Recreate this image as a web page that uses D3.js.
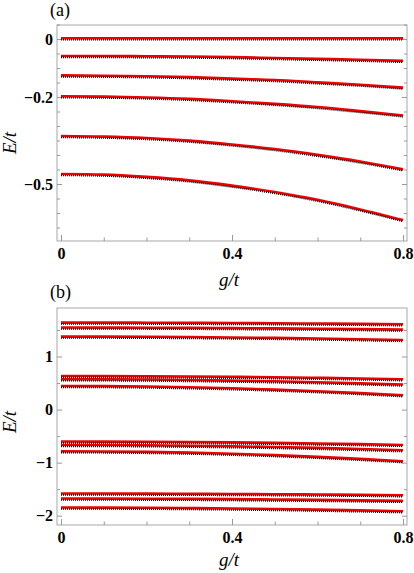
<!doctype html>
<html>
<head>
<meta charset="utf-8">
<script src="https://d3js.org/d3.v7.min.js"></script>
<style>
  body { margin: 0; background: #fff; }
  .tick line { stroke: #999; }
</style>
</head>
<body>
<svg width="414" height="573"></svg>
<script>
// coupling values g/t
var gVals = [0, 0.1, 0.2, 0.3, 0.4, 0.5, 0.6, 0.7, 0.8];

// panel (a) levels E/t
var levelsA = [
  [0, 0, 0, 0, 0, 0, 0, 0, 0],
  [-0.061, -0.061, -0.062, -0.063, -0.065, -0.068, -0.071, -0.074, -0.078],
  [-0.128, -0.129, -0.131, -0.134, -0.139, -0.144, -0.152, -0.160, -0.170],
  [-0.200, -0.201, -0.204, -0.209, -0.217, -0.226, -0.237, -0.251, -0.266],
  [-0.337, -0.339, -0.344, -0.353, -0.366, -0.382, -0.402, -0.425, -0.452],
  [-0.468, -0.470, -0.478, -0.490, -0.508, -0.530, -0.557, -0.590, -0.627]
];

// panel (b) levels E/t
var levelsB = [
  [1.626, 1.626, 1.624, 1.621, 1.618, 1.614, 1.608, 1.602, 1.594],
  [1.532, 1.531, 1.530, 1.527, 1.522, 1.517, 1.511, 1.503, 1.494],
  [1.362, 1.361, 1.358, 1.353, 1.346, 1.337, 1.326, 1.313, 1.298],
  [0.620, 0.619, 0.616, 0.611, 0.604, 0.596, 0.585, 0.573, 0.558],
  [0.558, 0.556, 0.552, 0.544, 0.533, 0.519, 0.502, 0.481, 0.458],
  [0.432, 0.429, 0.421, 0.407, 0.388, 0.363, 0.333, 0.297, 0.256],
  [-0.616, -0.617, -0.620, -0.625, -0.632, -0.641, -0.652, -0.665, -0.680],
  [-0.680, -0.682, -0.686, -0.694, -0.705, -0.719, -0.736, -0.757, -0.780],
  [-0.799, -0.802, -0.811, -0.825, -0.846, -0.872, -0.905, -0.943, -0.987],
  [-1.596, -1.596, -1.598, -1.601, -1.604, -1.608, -1.614, -1.620, -1.628],
  [-1.690, -1.691, -1.693, -1.696, -1.701, -1.708, -1.715, -1.724, -1.735],
  [-1.860, -1.861, -1.864, -1.870, -1.877, -1.887, -1.899, -1.913, -1.929]
];

var xMajor = [0, 0.4, 0.8];
var xMinor = [0.1, 0.2, 0.3, 0.5, 0.6, 0.7];
var yMajorA = [0, -0.2, -0.5];
var yMinorA = [0.05, -0.05, -0.1, -0.15, -0.25, -0.3, -0.35, -0.4, -0.45, -0.55, -0.6, -0.65];
var yMajorB = [1, 0, -1, -2];
var yMinorB = [1.5, 0.5, -0.5, -1.5];

var serif = "'Liberation Serif', 'DejaVu Serif', serif";
var svg = d3.select("svg");

function panel(opt) {
  var x = d3.scaleLinear().domain([0, 0.8]).range([61, 403]);
  var y = d3.scaleLinear().domain(opt.yDom).range(opt.yRange);
  var g = svg.append("g");
  var L = 57, R = 407, T = opt.top, B = opt.bottom;

  g.append("rect").attr("x", L).attr("y", T).attr("width", R - L).attr("height", B - T)
    .attr("fill", "none").attr("stroke", "#a8a8a8").attr("stroke-width", 1);

  function fmt(d) { return d === 0 ? "0" : d3.format("")(d).replace("-", "\u2212"); }

  // bottom axis (ticks pointing in)
  var bx = g.append("g").attr("transform", "translate(0," + B + ")");
  bx.call(d3.axisBottom(x).tickValues(xMajor).tickSize(-6).tickPadding(7).tickFormat(fmt));
  bx.append("g").call(d3.axisBottom(x).tickValues(xMinor).tickSize(-3.5).tickFormat(""));
  bx.selectAll(".domain").remove();

  // left axis
  var ly = g.append("g").attr("transform", "translate(" + L + ",0)");
  ly.call(d3.axisLeft(y).tickValues(opt.yMajor).tickSize(-5).tickPadding(4).tickFormat(fmt));
  ly.append("g").call(d3.axisLeft(y).tickValues(opt.yMinor).tickSize(-3).tickFormat(""));
  ly.selectAll(".domain").remove();

  // right axis
  var ry = g.append("g").attr("transform", "translate(" + R + ",0)");
  ry.call(d3.axisRight(y).tickValues(opt.yMajor).tickSize(-5).tickFormat(""));
  ry.append("g").call(d3.axisRight(y).tickValues(opt.yMinor).tickSize(-3).tickFormat(""));
  ry.selectAll(".domain").remove();

  g.selectAll("g").attr("font-family", serif);
  g.selectAll(".tick text").attr("font-family", serif).attr("font-size", 16)
    .attr("font-weight", "bold").attr("fill", "#000");

  var line = d3.line().x(function (d, i) { return x(gVals[i]); }).y(function (d) { return y(d); })
    .curve(d3.curveMonotoneX);

  g.append("g").selectAll("path").data(opt.levels).enter().append("path")
    .attr("d", line).attr("fill", "none").attr("stroke", "#ee0000").attr("stroke-width", 2.6)
    .attr("transform", "translate(0,-0.7)");
  g.append("g").selectAll("path").data(opt.levels).enter().append("path")
    .attr("d", line).attr("fill", "none").attr("stroke", "#000").attr("stroke-width", 1.6)
    .attr("stroke-dasharray", "1,1").attr("transform", "translate(0,0.7)");

  g.append("text").attr("x", 50).attr("y", opt.tagY).attr("font-family", serif)
    .attr("font-size", 18).text(opt.tag);
  g.append("text").attr("x", 229).attr("y", opt.xlabY).attr("font-family", serif)
    .attr("font-size", 19).attr("font-style", "italic").attr("text-anchor", "middle").text("g/t");
  g.append("text").attr("transform", "translate(16," + opt.ylabY + ") rotate(-90)")
    .attr("font-family", serif).attr("font-size", 19).attr("font-style", "italic")
    .attr("text-anchor", "middle").text("E/t");
}

panel({ yDom: [0, -0.5], yRange: [39, 184], top: 25, bottom: 241, levels: levelsA,
  yMajor: yMajorA, yMinor: yMinorA, tag: "(a)", tagY: 16, xlabY: 286, ylabY: 143 });
panel({ yDom: [1, -2], yRange: [356.5, 515.7], top: 308, bottom: 525, levels: levelsB,
  yMajor: yMajorB, yMinor: yMinorB, tag: "(b)", tagY: 298, xlabY: 566, ylabY: 422 });
</script>
</body>
</html>
